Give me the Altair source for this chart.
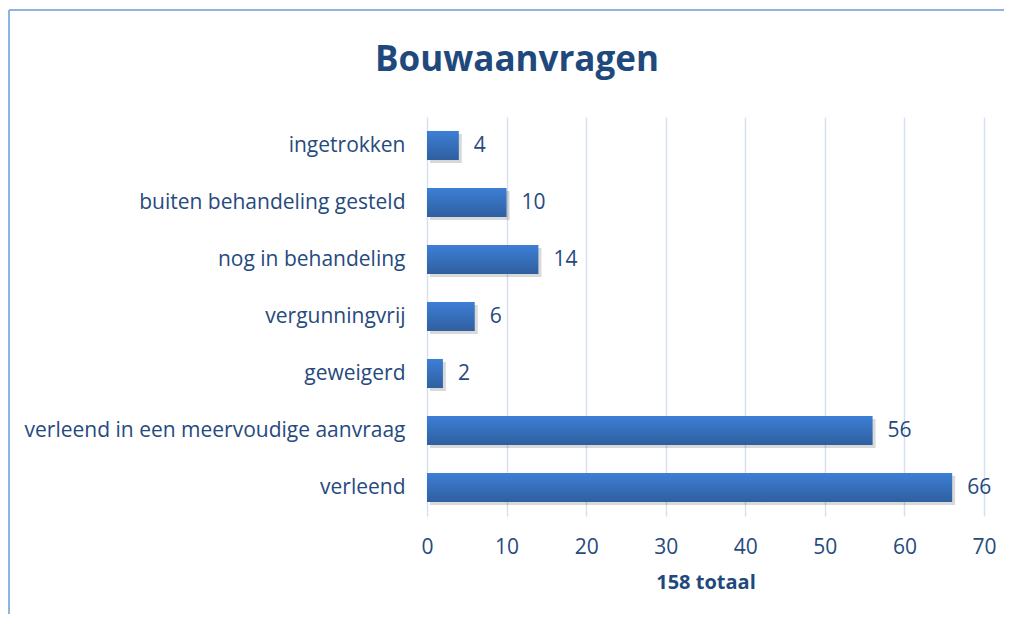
import altair as alt
import pandas as pd

categories = [
    "ingetrokken",
    "buiten behandeling gesteld",
    "nog in behandeling",
    "vergunningvrij",
    "geweigerd",
    "verleend in een meervoudige aanvraag",
    "verleend",
]
values = [4, 10, 14, 6, 2, 56, 66]
x_ticks = [0, 10, 20, 30, 40, 50, 60, 70]
chart_title = ["Bouwaanvragen"]

df = pd.DataFrame({"cat": categories, "val": values})
tdf = pd.DataFrame({"t": chart_title})

FONT = "Open Sans"
TXT = "#264a7e"
TITLE_C = "#1f497d"

grad = alt.LinearGradient(
    gradient="linear",
    stops=[alt.GradientStop(color="#3d7fd6", offset=0),
           alt.GradientStop(color="#2f5f9f", offset=1)],
    x1=0, x2=0, y1=0, y2=1,
)

y_enc = alt.Y("cat:N", sort=categories, title=None,
              scale=alt.Scale(paddingInner=0.49, paddingOuter=0.245),
              axis=alt.Axis(labelFont=FONT, labelFontSize=21, labelColor=TXT,
                            labelPadding=22, ticks=False, domain=False, grid=False,
                            labelLimit=500))
x_enc = alt.X("val:Q", title="158 totaal",
              scale=alt.Scale(domain=[0, 70], nice=False),
              axis=alt.Axis(values=x_ticks, labelFont=FONT, labelFontSize=21,
                            labelColor=TXT, labelPadding=20, ticks=False,
                            labelFlush=False,
                            domain=False, grid=True, gridColor="#d5e1f1",
                            gridWidth=1.5, titleFont=FONT, titleFontSize=20,
                            titleFontWeight="bold", titleColor=TITLE_C,
                            titlePadding=15))

base = alt.Chart(df)

shadow = base.mark_bar(color="#000000", opacity=0.15, xOffset=3, yOffset=3).encode(
    x=x_enc, y=y_enc)
bars = base.mark_bar(color=grad).encode(x=x_enc, y=y_enc)
labels = base.mark_text(align="left", dx=15, font=FONT, fontSize=21, color=TXT).encode(
    x="val:Q", y=alt.Y("cat:N", sort=categories), text="val:Q")

title = alt.Chart(tdf).mark_text(font=FONT, fontSize=35, fontWeight="bold",
                                 color=TITLE_C, align="center", baseline="middle").encode(
    x=alt.value(90), y=alt.value(-57), text="t:N")

border_top = alt.Chart(tdf).mark_rule(color="#8eb4e3", strokeWidth=2, clip=False).encode(
    x=alt.value(-418), x2=alt.value(600), y=alt.value(-107))
border_left = alt.Chart(tdf).mark_rule(color="#8eb4e3", strokeWidth=2, clip=False).encode(
    x=alt.value(-418), y=alt.value(-107), y2=alt.value(600))

chart = alt.layer(shadow, bars, labels, title, border_top, border_left).properties(
    width=557,
    height=399,
    autosize=alt.AutoSizeParams(type="none"),
    padding={"left": 419, "top": 109, "right": 20, "bottom": 98},
).configure_view(stroke=None)

chart.save("out.html", embed_options={"renderer": "svg", "actions": False})
